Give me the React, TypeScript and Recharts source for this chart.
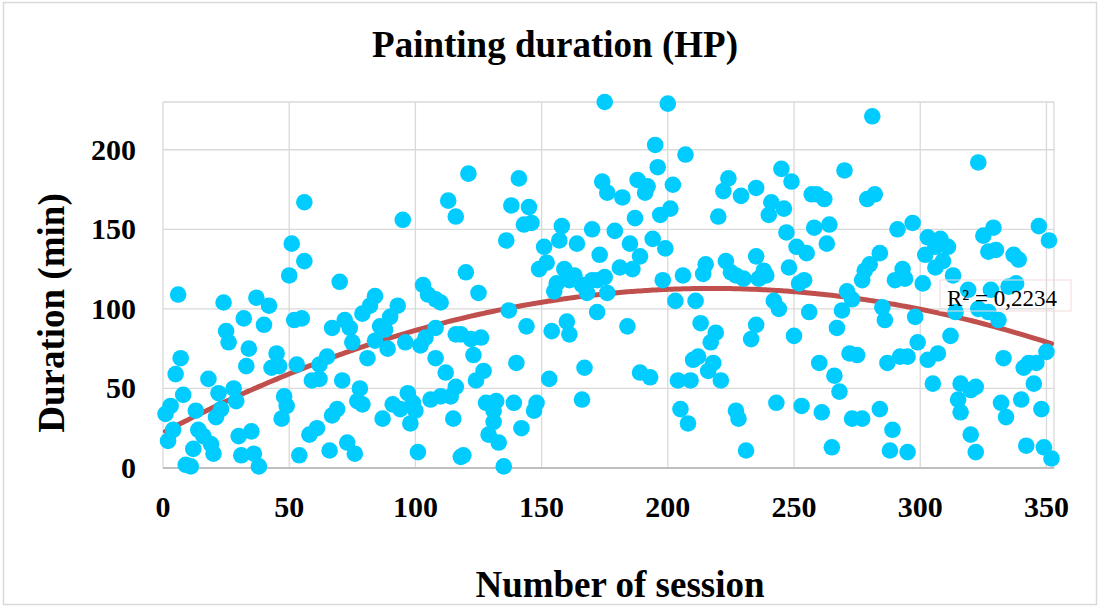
import React from 'react';
import { ComposedChart, Scatter, Line, XAxis, YAxis, CartesianGrid } from 'recharts';

// Session number (x) and painting duration in minutes (y)
const sessions = [
  56, 6, 51, 56, 50, 24, 37, 42, 32, 40, 52, 55, 25, 26, 34, 33, 7, 5, 45, 43, 46, 53, 18, 8, 22, 28, 29, 23, 21, 3, 1, 13, 48, 49, 47, 4, 2, 14, 16, 19, 12, 20, 30, 35, 31, 36, 38, 9, 11, 54,
  70, 95, 113, 116, 103, 105, 108, 110, 84, 82, 93, 79, 90, 86, 88, 72, 74, 67, 75, 84, 89, 96, 102, 104, 108, 116, 81, 65, 62, 108, 112, 59, 62, 71, 78, 77, 79, 116, 114, 110, 106, 97, 99, 100, 91, 94, 87, 98, 69, 67, 115, 61, 58, 66, 73, 76, 101, 118,
  175, 121, 141, 138, 145, 143, 146, 136, 158, 170, 174, 176, 151, 157, 164, 173, 149, 152, 159, 163, 156, 155, 166, 168, 170, 172, 175, 176, 161, 172, 120, 125, 137, 144, 154, 160, 161, 118, 122, 126, 123, 140, 127, 124, 153, 167, 166, 128, 132, 139, 148, 147, 131, 131, 129, 133, 142, 119, 135,
  200, 195, 207, 196, 188, 182, 192, 191, 202, 224, 222, 229, 220, 187, 197, 201, 179, 194, 199, 185, 189, 181, 186, 198, 206, 214, 215, 223, 225, 227, 230, 235, 236, 203, 211, 184, 213, 219, 217, 235, 233, 210, 212, 218, 216, 189, 193, 204, 209, 221, 205, 208, 227, 228, 231,
  281, 245, 249, 270, 235, 241, 240, 246, 257, 259, 262, 279, 282, 247, 258, 264, 263, 291, 251, 255, 238, 239, 248, 252, 254, 278, 280, 284, 277, 293, 290, 294, 271, 273, 269, 242, 244, 256, 285, 286, 267, 250, 272, 275, 260, 266, 268, 287, 292, 243, 253, 261, 273, 277, 284, 289, 265, 288,
  323, 297, 303, 308, 311, 306, 302, 309, 306, 313, 329, 325, 327, 330, 337, 339, 347, 351, 301, 319, 328, 335, 338, 298, 314, 323, 327, 331, 312, 299, 307, 303, 295, 333, 341, 343, 346, 350, 305, 316, 322, 320, 345, 315, 316, 332, 334, 340, 348, 320, 322, 295, 342, 349, 352,
];
const durations = [
  167, 109, 141, 130, 121, 104, 107, 102, 94, 90, 93, 94, 86, 79, 75, 64, 69, 59, 72, 63, 64, 65, 56, 46, 47, 50, 42, 37, 32, 39, 34, 36, 45, 39, 31, 24, 17, 24, 20, 15, 12, 9, 20, 23, 8, 9, 1, 2, 1, 8,
  117, 156, 168, 158, 115, 109, 106, 104, 108, 102, 102, 97, 95, 89, 87, 93, 88, 88, 79, 80, 75, 79, 77, 82, 88, 84, 69, 70, 65, 69, 60, 55, 56, 55, 50, 42, 40, 51, 45, 45, 43, 47, 41, 36, 40, 37, 31, 28, 37, 33, 31, 25, 21, 11, 16, 9, 10, 7,
  230, 185, 182, 165, 164, 153, 154, 143, 152, 150, 180, 173, 139, 143, 141, 134, 125, 129, 125, 121, 116, 111, 115, 110, 118, 118, 120, 110, 118, 98, 123, 110, 99, 89, 86, 92, 84, 84, 81, 82, 71, 66, 61, 55, 56, 63, 43, 41, 42, 41, 41, 36, 36, 29, 21, 16, 25, 8, 1,
  229, 203, 197, 189, 181, 170, 177, 173, 178, 182, 174, 171, 158, 157, 159, 163, 149, 144, 138, 141, 133, 126, 125, 118, 121, 122, 128, 130, 123, 121, 119, 133, 119, 105, 105, 89, 91, 85, 79, 90, 81, 68, 70, 66, 61, 60, 57, 55, 55, 55, 37, 28, 36, 31, 11,
  221, 188, 180, 187, 176, 167, 159, 163, 172, 172, 169, 169, 172, 148, 151, 153, 141, 150, 139, 135, 124, 121, 126, 116, 118, 124, 128, 135, 118, 125, 118, 119, 111, 106, 99, 105, 100, 98, 101, 93, 88, 83, 72, 71, 66, 58, 48, 66, 70, 41, 39, 35, 31, 31, 37, 24, 13, 11,
  192, 154, 145, 144, 139, 139, 134, 130, 126, 121, 151, 146, 136, 137, 134, 131, 152, 143, 116, 112, 112, 114, 116, 95, 98, 100, 98, 93, 83, 79, 72, 68, 70, 69, 63, 66, 66, 73, 53, 53, 51, 49, 53, 43, 35, 41, 32, 43, 37, 21, 10, 10, 14, 13, 6,
];

const xTicks = [0, 50, 100, 150, 200, 250, 300, 350];
const yTicks = [0, 50, 100, 150, 200];
const chartTitle = 'Painting duration (HP)';
const xTitle = 'Number of session';
const yTitle = 'Duration (min)';
const r2Label = 'R² = 0,2234';

const points = sessions.map((x, i) => ({ x, y: durations[i] }));

// Polynomial (order 2) least-squares trendline, as in the spreadsheet
function fitQuadratic(xs: number[], ys: number[]) {
  let s0 = 0, s1 = 0, s2 = 0, s3 = 0, s4 = 0, t0 = 0, t1 = 0, t2 = 0;
  for (let i = 0; i < xs.length; i++) {
    const x = xs[i], y = ys[i];
    s0 += 1; s1 += x; s2 += x * x; s3 += x * x * x; s4 += x * x * x * x;
    t0 += y; t1 += x * y; t2 += x * x * y;
  }
  const M = [
    [s0, s1, s2, t0],
    [s1, s2, s3, t1],
    [s2, s3, s4, t2],
  ];
  for (let c = 0; c < 3; c++) {
    for (let r = c + 1; r < 3; r++) {
      const f = M[r][c] / M[c][c];
      for (let k = c; k < 4; k++) M[r][k] -= f * M[c][k];
    }
  }
  const sol = [0, 0, 0];
  for (let r = 2; r >= 0; r--) {
    let s = M[r][3];
    for (let k = r + 1; k < 3; k++) s -= M[r][k] * sol[k];
    sol[r] = s / M[r][r];
  }
  return sol;
}
const [ca, cb, cc] = fitQuadratic(sessions, durations);
const trendXs = Array.from(new Set(sessions)).sort((p, q) => p - q);
const trend = trendXs.map((x) => ({ x, y: ca + cb * x + cc * x * x }));

const FONT = '"Liberation Serif", "Times New Roman", serif';

const YTick = (props: any) => (
  <text x={props.x} y={props.y} dy={10} textAnchor="end" fontFamily={FONT} fontWeight="bold" fontSize={30} fill="#000">
    {props.payload.value}
  </text>
);
const XTick = (props: any) => (
  <text x={props.x} y={props.y + 49} textAnchor="middle" fontFamily={FONT} fontWeight="bold" fontSize={30} fill="#000">
    {props.payload.value}
  </text>
);
const Dot = (props: any) => <circle cx={props.cx} cy={props.cy} r={8.3} fill="#00CCFF" />;

export default function App() {
  return (
    <div style={{ position: 'absolute', left: 0, top: 0, width: 1100, height: 607, background: '#fff' }}>
      <ComposedChart width={1100} height={607} margin={{ top: 102, right: 46, bottom: 0, left: 0 }}>
        <CartesianGrid stroke="#d9d9d9" strokeWidth={1.3} />
        <XAxis
          type="number"
          dataKey="x"
          domain={[0, 353]}
          ticks={xTicks}
          interval={0}
          height={139}
          tickSize={0}
          tickMargin={0}
          tickLine={false}
          tick={XTick}
          axisLine={{ stroke: '#bfbfbf', strokeWidth: 2 }}
        />
        <YAxis
          type="number"
          dataKey="y"
          domain={[0, 230]}
          ticks={yTicks}
          interval={0}
          width={163}
          tickSize={0}
          tickMargin={27}
          tickLine={false}
          tick={YTick}
          axisLine={false}
        />
        <Scatter data={points} dataKey="y" shape={Dot} isAnimationActive={false} />
        <Line
          data={trend}
          dataKey="y"
          type="monotone"
          stroke="#C0504D"
          strokeWidth={5}
          strokeLinecap="round"
          dot={false}
          activeDot={false}
          isAnimationActive={false}
        />
      </ComposedChart>
      <svg width={1100} height={607} style={{ position: 'absolute', left: 0, top: 0, pointerEvents: 'none' }}>
        <rect x={3.5} y={2.5} width={1093} height={602} fill="none" stroke="#d9d9d9" strokeWidth={1.5} />
        <text x={555} y={57} textAnchor="middle" fontFamily={FONT} fontWeight="bold" fontSize={37} fill="#000">
          {chartTitle}
        </text>
        <text x={620} y={597} textAnchor="middle" fontFamily={FONT} fontWeight="bold" fontSize={37} fill="#000">
          {xTitle}
        </text>
        <text transform="translate(64,313) rotate(-90)" textAnchor="middle" fontFamily={FONT} fontWeight="bold" fontSize={37} fill="#000">
          {yTitle}
        </text>
        <rect x={940} y={280} width={131} height={31} fill="none" stroke="#f2dcdb" strokeWidth={1} />
        <text x={947} y={306} fontFamily={FONT} fontSize={23} fill="#000">
          {r2Label}
        </text>
      </svg>
    </div>
  );
}
